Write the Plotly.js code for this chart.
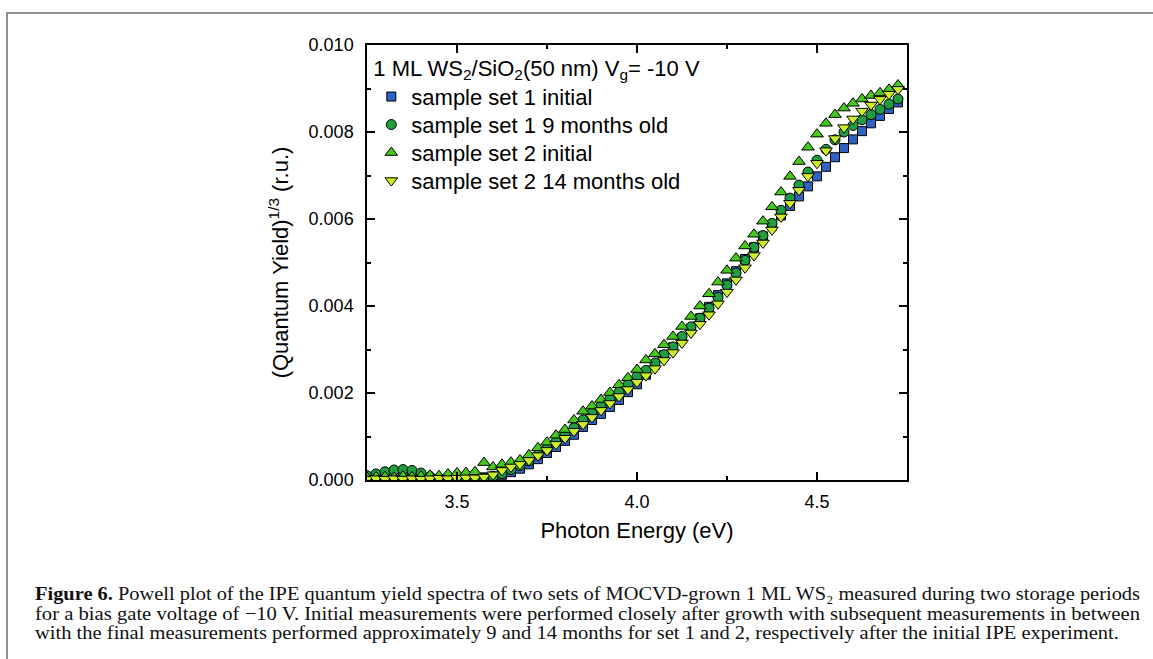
<!DOCTYPE html>
<html>
<head>
<meta charset="utf-8">
<script src="https://cdn.plot.ly/plotly-3.0.1.min.js"></script>
<style>
  html, body { margin: 0; padding: 0; background: #ffffff; }
  #wrap { position: relative; width: 1153px; height: 659px; overflow: hidden; }
  #chart { position: absolute; left: 0; top: 0; width: 1153px; height: 659px; }
  #frame { position: absolute; left: 6px; top: 12px; width: 1200px; height: 700px;
           border-top: 2px solid #8e8e8e; border-left: 2px solid #8e8e8e; pointer-events: none; }
  #caption { position: absolute; left: 35px; top: 584px; width: 1105px;
             font-family: "Liberation Serif", "DejaVu Serif", serif; font-size: 19px; line-height: 19.5px; color: #111; }
  #caption .ln { white-space: nowrap; height: 19.5px; }
  #caption .ln span.t { display: inline-block; transform-origin: 0 0; line-height: 19.5px; }
</style>
</head>
<body>
<div id="wrap">
  <div id="chart"></div>
  <div id="frame"></div>
  <div id="caption">
    <div class="ln"><span class="t" id="c1"><b>Figure 6.</b> Powell plot of the IPE quantum yield spectra of two sets of MOCVD-grown 1 ML WS₂ measured during two storage periods</span></div>
    <div class="ln"><span class="t" id="c2">for a bias gate voltage of −10 V. Initial measurements were performed closely after growth with subsequent measurements in between</span></div>
    <div class="ln"><span class="t" id="c3">with the final measurements performed approximately 9 and 14 months for set 1 and 2, respectively after the initial IPE experiment.</span></div>
  </div>
</div>
<script>
// Photon energy grid (eV)
const energy = [3.250,3.275,3.300,3.325,3.350,3.375,3.400,3.425,3.450,3.475,
                3.500,3.525,3.550,3.575,3.600,3.625,3.650,3.675,3.700,3.725,
                3.750,3.775,3.800,3.825,3.850,3.875,3.900,3.925,3.950,3.975,
                4.000,4.025,4.050,4.075,4.100,4.125,4.150,4.175,4.200,4.225,
                4.250,4.275,4.300,4.325,4.350,4.375,4.400,4.425,4.450,4.475,
                4.500,4.525,4.550,4.575,4.600,4.625,4.650,4.675,4.700,4.725];

// (Quantum Yield)^(1/3), r.u.
const set1Initial = [0.00004,0.00005,0.00006,0.00008,0.00007,0.00005,0.00003,0.00003,0.00002,0.00003,
                     0.00003,0.00004,0.00005,0.00006,0.00008,0.00012,0.00018,0.00026,0.00036,0.00048,
                     0.00062,0.00076,0.00090,0.00104,0.00122,0.00138,0.00152,0.00168,0.00184,0.00202,
                     0.00220,0.00242,0.00265,0.00287,0.00305,0.00326,0.00348,0.00372,0.00398,0.00425,
                     0.00452,0.00480,0.00508,0.00535,0.00560,0.00585,0.00608,0.00630,0.00652,0.00675,
                     0.00698,0.00720,0.00742,0.00763,0.00783,0.00802,0.00820,0.00837,0.00853,0.00868];

const set1Aged9 = [0.00010,0.00014,0.00019,0.00023,0.00024,0.00022,0.00016,0.00008,0.00004,0.00003,
                   0.00002,0.00002,0.00003,0.00004,0.00008,0.00015,0.00024,0.00033,0.00044,0.00058,
                   0.00072,0.00088,0.00103,0.00120,0.00138,0.00154,0.00170,0.00186,0.00202,0.00220,
                   0.00238,0.00252,0.00269,0.00288,0.00306,0.00330,0.00352,0.00372,0.00395,0.00420,
                   0.00448,0.00476,0.00505,0.00535,0.00562,0.00590,0.00620,0.00648,0.00678,0.00708,
                   0.00735,0.00760,0.00782,0.00800,0.00815,0.00828,0.00840,0.00852,0.00864,0.00876];

const set2Initial = [0.00006,0.00007,0.00008,0.00006,0.00009,0.00007,0.00009,0.00011,0.00010,0.00014,
                     0.00016,0.00017,0.00019,0.00040,0.00030,0.00036,0.00041,0.00046,0.00058,0.00074,
                     0.00087,0.00103,0.00116,0.00138,0.00158,0.00170,0.00185,0.00201,0.00219,0.00235,
                     0.00254,0.00276,0.00290,0.00311,0.00330,0.00353,0.00376,0.00400,0.00428,0.00455,
                     0.00482,0.00510,0.00538,0.00565,0.00595,0.00628,0.00662,0.00698,0.00732,0.00765,
                     0.00795,0.00820,0.00840,0.00855,0.00866,0.00876,0.00884,0.00890,0.00898,0.00908];

const set2Aged14 = [0.00002,0.00003,0.00002,0.00003,0.00002,0.00003,0.00002,0.00003,0.00004,0.00003,
                    0.00004,0.00005,0.00005,0.00007,0.00012,0.00022,0.00030,0.00036,0.00045,0.00056,
                    0.00068,0.00082,0.00096,0.00112,0.00128,0.00144,0.00160,0.00176,0.00192,0.00208,
                    0.00225,0.00240,0.00256,0.00275,0.00293,0.00315,0.00338,0.00358,0.00380,0.00405,
                    0.00432,0.00460,0.00488,0.00516,0.00545,0.00575,0.00605,0.00636,0.00666,0.00698,
                    0.00728,0.00757,0.00785,0.00810,0.00830,0.00848,0.00862,0.00875,0.00887,0.00898];

const seriesNames = ['sample set 1 initial', 'sample set 1 9 months old',
                     'sample set 2 initial', 'sample set 2 14 months old'];
const legendTitle = '1 ML WS<sub>2</sub>/SiO<sub>2</sub>(50 nm) V<sub>g</sub>= -10 V';
const xTitle = 'Photon Energy (eV)';
const yTitle = '(Quantum Yield)<sup>1/3</sup> (r.u.)';

const FONT = 'Liberation Sans, Arial, sans-serif';
const outline = {color: '#000000', width: 1};

const traces = [
  {x: energy, y: set1Initial, name: seriesNames[0], type: 'scatter', mode: 'markers',
   marker: {symbol: 'square', size: 9, color: '#3062c4', line: outline}},
  {x: energy, y: set1Aged9, name: seriesNames[1], type: 'scatter', mode: 'markers',
   marker: {symbol: 'circle', size: 10, color: '#1f9e3f', line: outline}},
  {x: energy, y: set2Initial, name: seriesNames[2], type: 'scatter', mode: 'markers',
   marker: {symbol: 'triangle-up', size: 11, color: '#44c81a', line: outline}},
  {x: energy, y: set2Aged14, name: seriesNames[3], type: 'scatter', mode: 'markers',
   marker: {symbol: 'triangle-down', size: 11, color: '#ccee2a', line: outline}}
];

const axisCommon = {
  showgrid: false, zeroline: false, showline: true, linecolor: '#000', linewidth: 1.5,
  mirror: 'allticks', ticks: 'inside', ticklen: 8, tickwidth: 1.5, tickcolor: '#000',
  tickfont: {family: FONT, size: 18, color: '#000'}
};

const layout = {
  width: 1153, height: 659,
  margin: {l: 367, r: 246, t: 45, b: 179},
  paper_bgcolor: '#ffffff', plot_bgcolor: '#ffffff',
  font: {family: FONT, color: '#000'},
  showlegend: true,
  legend: {
    x: 0.008, y: 0.995, xanchor: 'left', yanchor: 'top',
    bgcolor: 'rgba(0,0,0,0)', borderwidth: 0,
    font: {family: FONT, size: 22, color: '#000'},
    title: {text: legendTitle, font: {family: FONT, size: 22, color: '#000'}},
    tracegroupgap: 0
  },
  xaxis: Object.assign({}, axisCommon, {
    range: [3.25, 4.75], tick0: 3.5, dtick: 0.5, tickformat: '.1f',
    minor: {dtick: 0.25, tick0: 3.25, ticks: 'inside', ticklen: 4, tickwidth: 1.5, tickcolor: '#000'},
    ticklabelstandoff: 5,
    title: {text: xTitle, font: {family: FONT, size: 22, color: '#000'}, standoff: 11}
  }),
  yaxis: Object.assign({}, axisCommon, {
    range: [0, 0.010], tick0: 0, dtick: 0.002, tickformat: '.3f',
    minor: {dtick: 0.001, ticks: 'inside', ticklen: 4, tickwidth: 1.5, tickcolor: '#000'},
    ticklabelstandoff: 8,
    title: {text: yTitle, font: {family: FONT, size: 22, color: '#000'}, standoff: 14}
  })
};

function tightenLegend() {
  try {
    const items = document.querySelectorAll('#chart .legend .traces');
    if (items.length < 2) return;
    const parse = (el) => {
      const m = /translate\(\s*([-\d.]+)[ ,]+([-\d.]+)\s*\)/.exec(el.getAttribute('transform') || '');
      return m ? [parseFloat(m[1]), parseFloat(m[2])] : null;
    };
    const first = parse(items[0]);
    if (!first) return;
    const step = 28;
    items.forEach((el, i) => {
      const p = parse(el);
      if (p) el.setAttribute('transform', 'translate(' + p[0] + ',' + (first[1] + i * step) + ')');
    });
  } catch (e) { /* keep default legend spacing */ }
}

function fitCaption() {
  const target = 1105;
  const s1 = document.getElementById('c1');
  const s2 = document.getElementById('c2');
  const s3 = document.getElementById('c3');
  const f1 = target / s1.getBoundingClientRect().width;
  const f2 = target / s2.getBoundingClientRect().width;
  s1.style.transform = 'scaleX(' + f1 + ')';
  s2.style.transform = 'scaleX(' + f2 + ')';
  s3.style.transform = 'scaleX(' + ((f1 + f2) / 2) + ')';
}

Plotly.newPlot('chart', traces, layout, {displayModeBar: false, responsive: false})
  .then(tightenLegend);

if (document.fonts && document.fonts.ready) {
  document.fonts.ready.then(fitCaption);
} else {
  fitCaption();
}
</script>
</body>
</html>
